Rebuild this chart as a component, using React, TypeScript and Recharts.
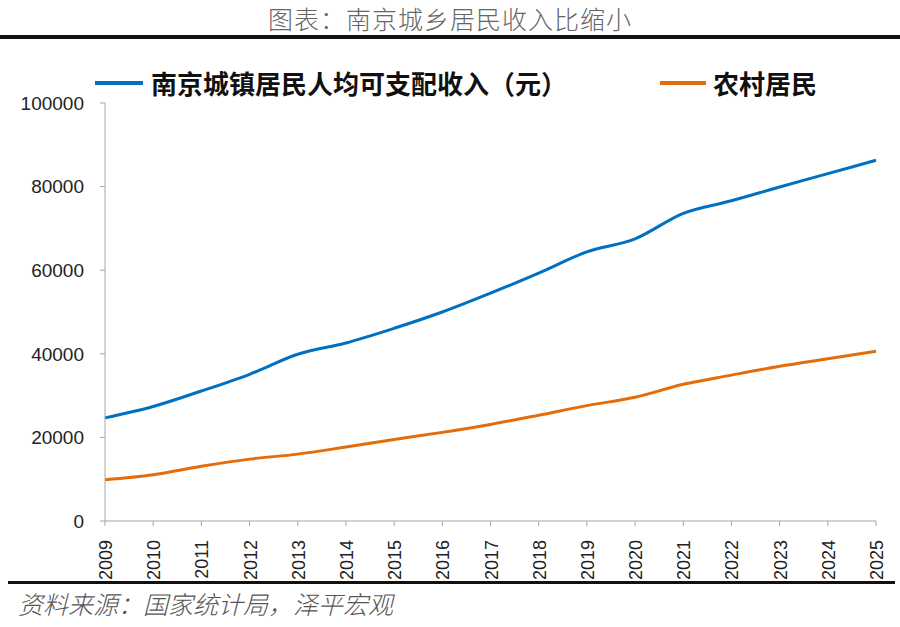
import { LineChart, Line, XAxis, YAxis } from 'recharts'

const years = ['2009', '2010', '2011', '2012', '2013', '2014', '2015', '2016', '2017',
  '2018', '2019', '2020', '2021', '2022', '2023', '2024', '2025']
const urban = [24678, 27400, 31100, 35100, 39900, 42600, 46100, 50000, 54500,
  59300, 64400, 67500, 73600, 76600, 79900, 83100, 86300]
const rural = [9860, 11050, 13100, 14800, 16000, 17700, 19500, 21200, 23100,
  25300, 27600, 29600, 32700, 34900, 37000, 38800, 40600]
const yTicks = [0, 20000, 40000, 60000, 80000, 100000]

const data = years.map((year, i) => ({ year, urban: urban[i], rural: rural[i] }))

const cjk = '"Noto Sans CJK SC", sans-serif'
const num = '"Liberation Sans", Arial, sans-serif'
const axisColor = '#a6a6a6'

function YearTick({ x, y, payload }: any) {
  return (
    <text
      x={0}
      y={0}
      transform={`translate(${x + 7},${y + 12}) rotate(-90)`}
      textAnchor="end"
      fontSize={18}
      fill="#222"
      fontFamily={num}
    >
      {payload.value}
    </text>
  )
}

export default function App() {
  return (
    <div style={{ position: 'absolute', left: 0, top: 0, width: 900, height: 627, background: '#fff' }}>
      <div style={{
        position: 'absolute', top: 0, width: 900, textAlign: 'center',
        fontFamily: cjk, fontSize: 25, fontWeight: 300, color: '#666', letterSpacing: 1,
      }}>
        图表：南京城乡居民收入比缩小
      </div>
      <div style={{ position: 'absolute', top: 35, left: 0, width: 900, height: 4, background: '#111' }} />

      <div style={{ position: 'absolute', top: 64, left: 95, display: 'flex', alignItems: 'center', fontFamily: cjk, fontSize: 26, fontWeight: 700, color: '#111' }}>
        <span style={{ display: 'inline-block', width: 48, height: 4, background: '#0070c0', marginRight: 8 }} />
        南京城镇居民人均可支配收入（元）
      </div>
      <div style={{ position: 'absolute', top: 64, left: 660, display: 'flex', alignItems: 'center', fontFamily: cjk, fontSize: 26, fontWeight: 700, color: '#111' }}>
        <span style={{ display: 'inline-block', width: 46, height: 4, background: '#e46c0a', marginRight: 7 }} />
        农村居民
      </div>

      <div style={{ position: 'absolute', left: 0, top: 0 }}>
        <LineChart width={900} height={627} data={data} margin={{ top: 103, right: 24, bottom: 56, left: 45 }}>
          <XAxis
            dataKey="year"
            height={50}
            interval={0}
            tick={<YearTick />}
            tickSize={5}
            stroke={axisColor}
            tickLine={{ stroke: axisColor }}
          />
          <YAxis
            width={60}
            domain={[0, 100000]}
            ticks={yTicks}
            interval={0}
            tickSize={5}
            tickMargin={16}
            stroke={axisColor}
            tick={{ fontSize: 19, fill: '#222', fontFamily: num }}
          />
          <Line type="monotone" dataKey="urban" stroke="#0070c0" strokeWidth={3} dot={false} isAnimationActive={false} />
          <Line type="monotone" dataKey="rural" stroke="#e46c0a" strokeWidth={3} dot={false} isAnimationActive={false} />
        </LineChart>
      </div>

      <div style={{ position: 'absolute', top: 581, left: 8, width: 887, height: 3, background: '#111' }} />
      <div style={{
        position: 'absolute', top: 585, left: 18, fontFamily: cjk, fontSize: 25,
        fontStyle: 'italic', color: '#555', fontWeight: 300,
      }}>
        资料来源：国家统计局，泽平宏观
      </div>
    </div>
  )
}
